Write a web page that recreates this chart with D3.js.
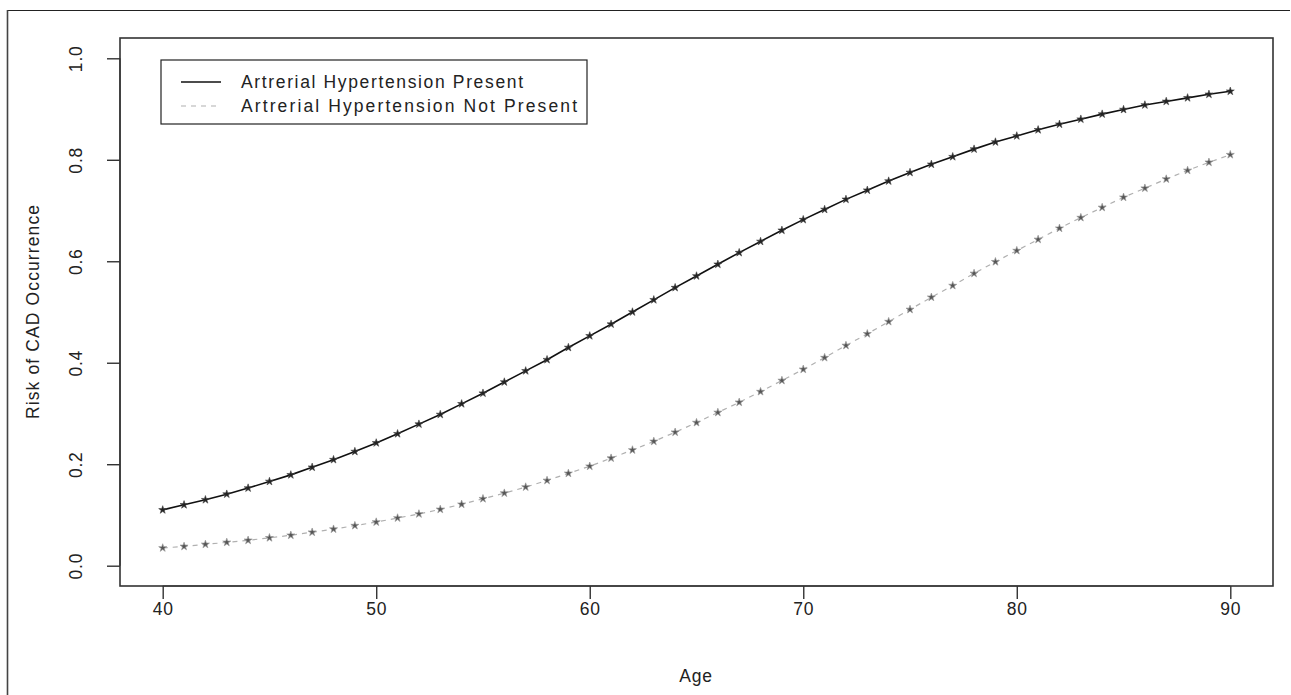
<!DOCTYPE html>
<html>
<head>
<meta charset="utf-8">
<script src="https://cdn.jsdelivr.net/npm/d3@7"></script>
<style>
  html, body { margin: 0; padding: 0; background: #fff; }
  svg { display: block; }
  text { font-family: "Liberation Sans", Arial, Helvetica, sans-serif; fill: #222; }
</style>
</head>
<body>
<svg id="chart" width="1291" height="695"></svg>
<script>
// ---- data ----
const ages = d3.range(40, 91);
const hypertensionPresent = [
  0.110, 0.120, 0.130, 0.141, 0.153, 0.166, 0.179, 0.194, 0.209, 0.225,
  0.242, 0.260, 0.279, 0.298, 0.319, 0.340, 0.362, 0.384, 0.406, 0.430,
  0.453, 0.476, 0.500, 0.524, 0.548, 0.571, 0.594, 0.617, 0.639, 0.661,
  0.682, 0.702, 0.722, 0.740, 0.758, 0.775, 0.791, 0.806, 0.821, 0.835,
  0.847, 0.859, 0.870, 0.880, 0.890, 0.899, 0.908, 0.915, 0.922, 0.929,
  0.935
];
const hypertensionNotPresent = [
  0.035, 0.038, 0.042, 0.046, 0.050, 0.055, 0.060, 0.066, 0.072, 0.079,
  0.086, 0.094, 0.102, 0.111, 0.121, 0.132, 0.143, 0.155, 0.168, 0.182,
  0.196, 0.212, 0.228, 0.245, 0.263, 0.282, 0.302, 0.322, 0.343, 0.365,
  0.387, 0.410, 0.434, 0.457, 0.481, 0.505, 0.529, 0.552, 0.576, 0.599,
  0.621, 0.643, 0.665, 0.686, 0.706, 0.726, 0.744, 0.762, 0.779, 0.795,
  0.810
];
const xTicks = [40, 50, 60, 70, 80, 90];
const yTicks = [0.0, 0.2, 0.4, 0.6, 0.8, 1.0];
const seriesNames = ["Artrerial Hypertension Present", "Artrerial Hypertension Not Present"];
const xLabel = "Age";
const yLabel = "Risk of CAD Occurrence";

// ---- layout ----
const svg = d3.select("#chart");
const W = 1291, H = 695;
const box = { left: 120, right: 1273, top: 38, bottom: 586 };
const FS = 17.5;

// outer frame (top and left edges visible)
svg.append("line").attr("x1", 7).attr("x2", 1290).attr("y1", 10.5).attr("y2", 10.5)
  .attr("stroke", "#222").attr("stroke-width", 1.2);
svg.append("line").attr("x1", 7.5).attr("x2", 7.5).attr("y1", 10).attr("y2", H)
  .attr("stroke", "#444").attr("stroke-width", 1.6);

const x = d3.scaleLinear().domain([38, 92]).range([box.left, box.right]);
const y = d3.scaleLinear().domain([-0.04, 1.04]).range([box.bottom, box.top]);

// plot box
svg.append("rect")
  .attr("x", box.left).attr("y", box.top)
  .attr("width", box.right - box.left).attr("height", box.bottom - box.top)
  .attr("fill", "none").attr("stroke", "#333").attr("stroke-width", 1.6);

// x axis
const xAxis = d3.axisBottom(x).tickValues(xTicks).tickSize(13).tickPadding(4).tickFormat(d3.format("d"));
const gx = svg.append("g").attr("transform", `translate(0,${box.bottom})`).call(xAxis);
gx.select(".domain").attr("d", `M${x(40)},0H${x(90)}`).attr("stroke", "#333").attr("stroke-width", 1.2);
gx.selectAll(".tick line").attr("stroke", "#333").attr("stroke-width", 1.4);
gx.selectAll(".tick text").attr("font-size", FS).attr("fill", "#222").attr("letter-spacing", 0.8)
  .style("font-family", "'Liberation Sans', Arial, sans-serif");

// y axis
const yAxis = d3.axisLeft(y).tickValues(yTicks).tickSize(13).tickPadding(0).tickFormat(d3.format(".1f"));
const gy = svg.append("g").attr("transform", `translate(${box.left},0)`).call(yAxis);
gy.select(".domain").attr("d", `M0,${y(0)}V${y(1)}`).attr("stroke", "#333").attr("stroke-width", 1.2);
gy.selectAll(".tick line").attr("stroke", "#333").attr("stroke-width", 1.4);
gy.selectAll(".tick text")
  .attr("x", null).attr("dy", null)
  .attr("transform", "translate(-44,0) rotate(-90)")
  .attr("text-anchor", "middle").attr("dominant-baseline", "central")
  .attr("font-size", FS).attr("fill", "#222").attr("letter-spacing", 0.8)
  .style("font-family", "'Liberation Sans', Arial, sans-serif");

// axis labels
svg.append("text").attr("x", 696).attr("y", 682)
  .attr("text-anchor", "middle").attr("font-size", FS).attr("letter-spacing", 0.8).text(xLabel);
svg.append("text")
  .attr("transform", `translate(39,${(box.top + box.bottom) / 2}) rotate(-90)`)
  .attr("text-anchor", "middle").attr("font-size", FS)
  .attr("textLength", 214).attr("lengthAdjust", "spacing").text(yLabel);

// lines
const line = d3.line().x(d => x(d[0])).y(d => y(d[1]));
const presentPts = ages.map((a, i) => [a, hypertensionPresent[i]]);
const notPts = ages.map((a, i) => [a, hypertensionNotPresent[i]]);

svg.append("path").datum(notPts).attr("d", line)
  .attr("fill", "none").attr("stroke", "#b0b0b0").attr("stroke-width", 1.2)
  .attr("stroke-dasharray", "5,5");
svg.append("path").datum(presentPts).attr("d", line)
  .attr("fill", "none").attr("stroke", "#111").attr("stroke-width", 1.6);

// markers (small stars)
const star = d3.symbol().type(d3.symbolStar).size(20);
svg.append("g").selectAll("path").data(notPts).join("path")
  .attr("d", star).attr("transform", d => `translate(${x(d[0])},${y(d[1])})`)
  .attr("fill", "#555").attr("stroke", "#999").attr("stroke-width", 0.7);
svg.append("g").selectAll("path").data(presentPts).join("path")
  .attr("d", star).attr("transform", d => `translate(${x(d[0])},${y(d[1])})`)
  .attr("fill", "#222").attr("stroke", "#444").attr("stroke-width", 0.6);

// legend
const lg = svg.append("g");
lg.append("rect").attr("x", 161).attr("y", 60).attr("width", 426).attr("height", 64)
  .attr("fill", "#fff").attr("stroke", "#222").attr("stroke-width", 1.2);
const legendRows = [
  { name: seriesNames[0], stroke: "#111", dash: null, w: 1.6, len: 282 },
  { name: seriesNames[1], stroke: "#b0b0b0", dash: "5,5", w: 1.2, len: 336 }
];
legendRows.forEach((r, i) => {
  const yy = 82 + i * 24;
  lg.append("line").attr("x1", 181).attr("x2", 221).attr("y1", yy).attr("y2", yy)
    .attr("stroke", r.stroke).attr("stroke-width", r.w).attr("stroke-dasharray", r.dash);
  lg.append("text").attr("x", 241).attr("y", yy).attr("dominant-baseline", "central")
    .attr("font-size", FS).attr("textLength", r.len).attr("lengthAdjust", "spacing").text(r.name);
});
</script>
</body>
</html>
